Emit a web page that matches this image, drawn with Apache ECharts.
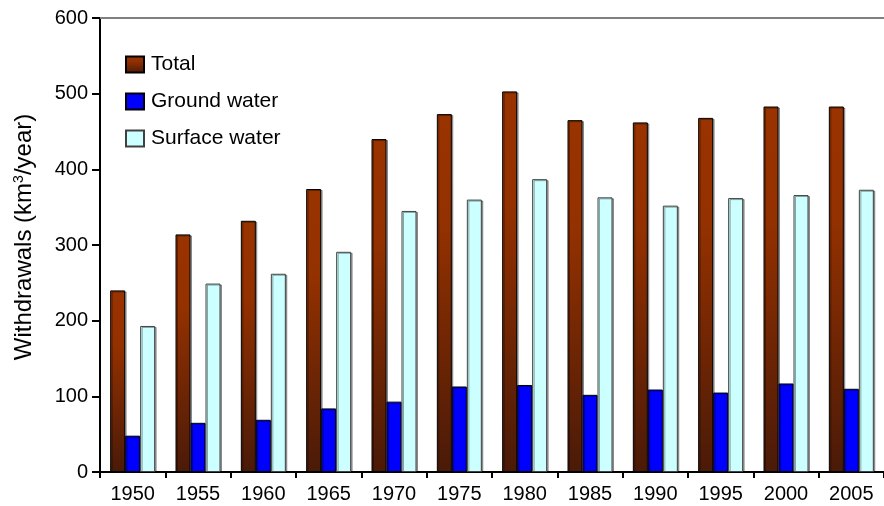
<!DOCTYPE html>
<html>
<head>
<meta charset="utf-8">
<script src="https://cdn.jsdelivr.net/npm/echarts@6/dist/echarts.min.js"></script>
<style>html,body{margin:0;padding:0;background:#fff}#c{width:884px;height:506px}</style>
</head>
<body>
<div id="c"></div>
<script>
const years = ['1950','1955','1960','1965','1970','1975','1980','1985','1990','1995','2000','2005'];
const total = [240, 314, 332, 374, 440, 473, 503, 465, 462, 468, 483, 483];
const ground = [48, 65, 69, 84, 93, 113, 115, 102, 109, 105, 117, 110];
const surface = [193, 249, 262, 291, 345, 360, 387, 363, 352, 362, 366, 373];
const yTicks = [0, 100, 200, 300, 400, 500, 600];

const font = '"Liberation Sans", Arial, sans-serif';
const chart = echarts.init(document.getElementById('c'), null, {renderer: 'canvas'});
const totalGrad = new echarts.graphic.LinearGradient(0, 0, 0, 1, [
  {offset: 0, color: '#993300'},
  {offset: 0.3, color: '#943100'},
  {offset: 1, color: '#4a1a08'}
]);
const shadow = {shadowColor: 'rgba(0,0,0,0.35)', shadowOffsetX: 1.5, shadowOffsetY: 1, shadowBlur: 0};
chart.setOption({
  animation: false,
  backgroundColor: '#fff',
  grid: {left: 100, top: 18, width: 792, height: 454},
  legend: {
    orient: 'vertical', left: 125, top: 54, icon: 'rect', padding: 0,
    itemWidth: 18, itemHeight: 16, itemGap: 16,
    textStyle: {fontFamily: font, fontSize: 21, color: '#000', padding: [0, 0, 0, 2]},
    data: ['Total', 'Ground water', 'Surface water']
  },
  xAxis: [{
    type: 'category', data: years, position: 'bottom',
    axisLine: {lineStyle: {color: '#000', width: 2}},
    axisTick: {show: true, length: 6, alignWithLabel: false, lineStyle: {color: '#000', width: 2}},
    axisLabel: {fontFamily: font, fontSize: 20, color: '#000', margin: 12, interval: 0},
    splitLine: {show: false}
  }, {
    type: 'category', data: years, position: 'top',
    axisLine: {lineStyle: {color: '#808080', width: 2}},
    axisTick: {show: false}, axisLabel: {show: false}, splitLine: {show: false}
  }],
  yAxis: {
    type: 'value', min: yTicks[0], max: yTicks[yTicks.length - 1], interval: 100,
    name: 'Withdrawals (km{sup|3}/year)', nameLocation: 'middle', nameGap: 64,
    nameTextStyle: {fontFamily: font, fontSize: 24, color: '#000', padding: [0, 0, 0, 16],
      rich: {sup: {fontFamily: font, fontSize: 14, verticalAlign: 'top', padding: [0, 0, 10, 0], color: '#000'}}},
    axisLine: {show: true, lineStyle: {color: '#000', width: 2}},
    axisTick: {show: true, length: 8, lineStyle: {color: '#000', width: 2}},
    axisLabel: {fontFamily: font, fontSize: 20, color: '#000', margin: 12},
    splitLine: {show: false}
  },
  series: [
    {name: 'Total', type: 'bar', data: total, barWidth: 15, barGap: '0%',
     itemStyle: Object.assign({color: totalGrad, borderColor: '#000', borderWidth: 1}, shadow)},
    {name: 'Ground water', type: 'bar', data: ground, barWidth: 15, barGap: '0%',
     itemStyle: Object.assign({color: '#0000ff', borderColor: '#000', borderWidth: 1}, shadow)},
    {name: 'Surface water', type: 'bar', data: surface, barWidth: 15, barGap: '0%',
     itemStyle: Object.assign({color: '#ccffff', borderColor: '#404040', borderWidth: 1}, shadow)}
  ]
});
</script>
</body>
</html>
